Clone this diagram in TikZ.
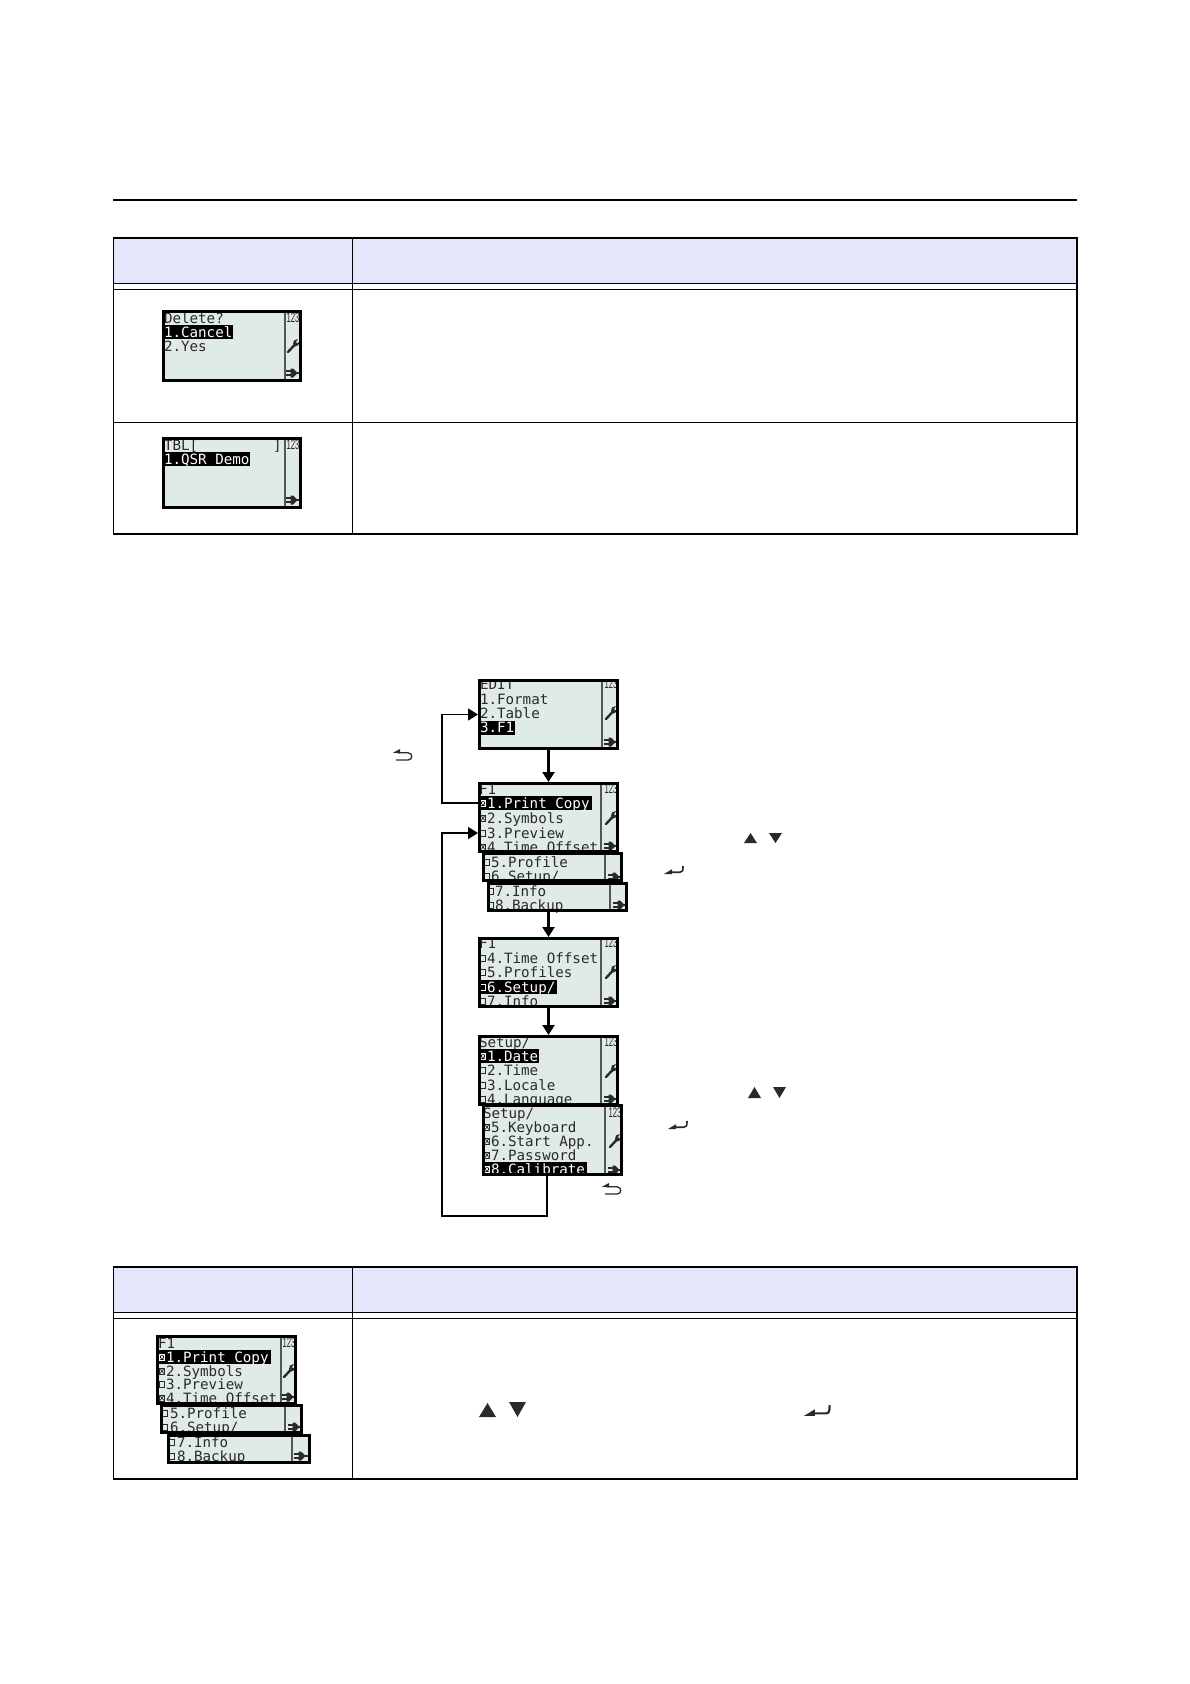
\documentclass[tikz,border=0pt]{standalone}
\usepackage{fontspec}
\setmainfont{Liberation Sans}
\newfontfamily\lcdfont{DejaVu Sans Mono}
\usetikzlibrary{arrows.meta}
\definecolor{lcdbg}{HTML}{E0EAE8}
\definecolor{headbg}{HTML}{E4E6FA}
\definecolor{lcdink}{HTML}{2A2A2A}
\newcount\lcdid
\tikzset{
  tablerule/.style={line width=1.1pt,black},
  lcdscreen/.style={fill=lcdbg,inner sep=0pt,outer sep=0pt,draw=none},
  lcdtext/.style={font=\lcdfont\fontsize{14.2}{15}\selectfont,inner sep=0pt,outer sep=0pt,text=lcdink,anchor=base west},
  lcdnum/.style={font=\fontsize{14}{14}\selectfont,inner sep=0pt,outer sep=0pt,text=lcdink,xscale=.55},
  flowline/.style={line width=2.2pt,-{Triangle[width=12pt,length=10pt]}},
  backline/.style={line width=1.5pt,-{Triangle[width=12pt,length=10pt]}},
  iconline/.style={line width=1.3pt,lcdink},
}
% name x1 y1 x2 y2
\newcommand\lcdopen[5]{%
  \node[lcdscreen,minimum width={#4-#2},minimum height={#5-#3}] (#1) at ({(#2+#4)/2},{(#3+#5)/2}) {};
  \begin{scope}
  \clip (#2,#3) rectangle (#4,#5);
}
% x1 y1 x2 y2 lw divx
\newcommand\lcdclose[6]{%
  \end{scope}
  \draw[line width=1.5pt,lcdink!80] (#6,#2) -- (#6,#4);
  \draw[line width=#5pt,black] ({#1+#5/2},{#2+#5/2}) rectangle ({#3-#5/2},{#4-#5/2});
}
\newcommand\lrow[3]{\global\advance\lcdid by 1
  \node[lcdtext] (txt\the\lcdid) at ({#1-1},{#2+5.2}) {#3};}
\newcommand\lwhite[3]{\global\advance\lcdid by 1
  \node[lcdtext,text=white] (txt\the\lcdid) at ({#1-1},{#2+5.2}) {#3};}
\newcommand\cbo[3][lcdink]{\draw[#1,line width=.9pt] ({#2+.5},{#3-3}) rectangle ({#2+5.5},{#3+3});}
\newcommand\cbc[3][lcdink]{\draw[#1,line width=.9pt] ({#2+.5},{#3-3}) rectangle ({#2+5.5},{#3+3});
  \draw[#1,line width=.7pt] ({#2+1},{#3-2.5}) -- ({#2+5},{#3+2.5}) ({#2+1},{#3+2.5}) -- ({#2+5},{#3-2.5});}
\newcommand\numicon[2]{\global\advance\lcdid by 1
  \node[lcdnum] (num\the\lcdid) at (#1,#2) {123};}
\newcommand\wrenchicon[2]{\begin{scope}[shift={(#1,#2)}]
  \draw[line width=2.4pt,lcdink,line cap=round] (-5,6) -- (1.5,-1);
  \fill[lcdink] (0,-2) -- (1,-5.5) -- (5,-7) -- (3,-4) -- (4,-2.5) -- (6.5,-4.5) -- (5.5,-1) -- (2,.5) -- cycle;
\end{scope}}
\newcommand\plugicon[2]{\begin{scope}[shift={(#1,#2)}]
  \fill[lcdink] (-2.5,-4.5) -- (0,-4.5) -- (3.5,-1.2) -- (3.5,1.2) -- (0,4.5) -- (-2.5,4.5) -- cycle;
  \draw[line width=1.2pt,lcdink] (-7,-2) -- (-2,-2) (-7,2) -- (-2,2) (3,0) -- (7.5,0);
\end{scope}}
\newcommand\backicon[2]{\begin{scope}[shift={(#1,#2)}]
  \fill[lcdink] (0,3.7) -- (7,0) -- (7,4.4) -- cycle;
  \draw[iconline] (5,3.8) -- (15,3.8) .. controls (20,3.8) and (20,11) .. (15,11) -- (3,11);
\end{scope}}
\newcommand\entericon[3]{\begin{scope}[shift={(#1,#2)},scale=#3]
  \fill[lcdink] (0,8) -- (8,3.2) -- (8,8) -- cycle;
  \draw[iconline,line width=#3*1.6pt] (7,6.2) -- (16,6.2) .. controls (18.5,6.2) and (19,5) .. (19,0);
\end{scope}}
\newcommand\upt[4]{\fill[lcdink] (#1,#4) -- ({(#1+#2)/2},#3) -- (#2,#4) -- cycle;}
\newcommand\dnt[4]{\fill[lcdink] (#1,#3) -- ({(#1+#2)/2},#4) -- (#2,#3) -- cycle;}
\begin{document}
\begin{tikzpicture}[x=1pt,y=-1pt]
\useasboundingbox (0,0) rectangle (1190,1684);
\fill[white] (0,0) rectangle (1190,1684);
% top rule
\draw[line width=2.6pt] (113,200) -- (1077,200);
% table 1
\fill[headbg] (113.5,238) rectangle (1077,283.5);
\draw[tablerule] (113.5,238) rectangle (1077,534);
\draw[tablerule] (352.5,238) -- (352.5,534);
\draw[tablerule] (113.5,283.5) -- (1077,283.5);
\draw[tablerule] (113.5,289.5) -- (1077,289.5);
\draw[tablerule] (113.5,422.5) -- (1077,422.5);
% Delete screen
\lcdopen{del}{162}{310}{302}{382}
\lrow{165}{318}{Delete?}
\fill[black] (164,{332-7}) rectangle (233,{332+7});
\lwhite{165}{332}{1.Cancel}
\lrow{165}{346}{2.Yes}
\numicon{293}{318}
\wrenchicon{293}{346}
\plugicon{293}{373}
\lcdclose{162}{310}{302}{382}{2.6}{285}
% TBL screen
\lcdopen{tbl}{162}{437}{302}{509}
\lrow{165}{445}{TBL[}
\lrow{274}{445}{]}
\fill[black] (164,{459-7}) rectangle (250,{459+7});
\lwhite{165}{459}{1.QSR Demo}
\numicon{293}{445}
\plugicon{293}{500}
\lcdclose{162}{437}{302}{509}{2.6}{285}
% flow connectors
\coordinate (f1up) at (478,803);
\coordinate (f1in) at (478,833);
\coordinate (setout) at (547,1176);
% EDIT
\lcdopen{edit}{478}{679}{619}{750}
\lrow{481}{684}{EDIT}
\lrow{481}{699}{1.Format}
\lrow{481}{713}{2.Table}
\fill[black] (480,{727.5-7}) rectangle (515,{727.5+7});
\lwhite{481}{727.5}{3.F1}
\numicon{611}{684}
\wrenchicon{611}{713}
\plugicon{611}{742}
\lcdclose{478}{679}{619}{750}{2.6}{602}
% F1 first
\lcdopen{fa}{478}{782}{619}{853}
\lrow{480}{789}{F1}
\fill[black] (480,{803-7}) rectangle (592,{803+7});
\cbc[white]{480}{803}
\lwhite{488}{803}{1.Print Copy}
\cbc{480}{818}\lrow{488}{818}{2.Symbols}
\cbo{480}{833}\lrow{488}{833}{3.Preview}
\cbc{480}{847}\lrow{488}{847}{4.Time Offset}
\numicon{611}{789}
\wrenchicon{611}{818}
\plugicon{611}{846}
\lcdclose{478}{782}{619}{853}{2.6}{601}
\lcdopen{fb}{482}{852}{623}{882}
\cbo{484}{862}\lrow{492}{862}{5.Profile}
\cbo{484}{876}\lrow{492}{876}{6.Setup/}
\plugicon{615}{877}
\lcdclose{482}{852}{623}{882}{2.6}{605}
\lcdopen{fc}{487}{882}{628}{912}
\cbo{488}{891}\lrow{496}{891}{7.Info}
\cbo{488}{905}\lrow{496}{905}{8.Backup}
\plugicon{620}{905}
\lcdclose{487}{882}{628}{912}{2.6}{610}
% F1 second
\lcdopen{fd}{478}{937}{619}{1008}
\lrow{480}{943}{F1}
\cbo{480}{958}\lrow{488}{958}{4.Time Offset}
\cbo{480}{972}\lrow{488}{972}{5.Profiles}
\fill[black] (480,{987-7}) rectangle (557,{987+7});
\cbo[white]{480}{987}
\lwhite{488}{987}{6.Setup/}
\cbo{480}{1001}\lrow{488}{1001}{7.Info}
\numicon{611}{943}
\wrenchicon{611}{972}
\plugicon{611}{1001}
\lcdclose{478}{937}{619}{1008}{2.6}{601}
% Setup
\lcdopen{sa}{478}{1035}{619}{1106}
\lrow{480}{1042}{Setup/}
\fill[black] (480,{1056-7}) rectangle (539,{1056+7});
\cbc[white]{480}{1056}
\lwhite{488}{1056}{1.Date}
\cbo{480}{1070.5}\lrow{488}{1070.5}{2.Time}
\cbo{480}{1085}\lrow{488}{1085}{3.Locale}
\cbo{480}{1099}\lrow{488}{1099}{4.Language}
\numicon{611}{1042}
\wrenchicon{611}{1071}
\plugicon{611}{1099}
\lcdclose{478}{1035}{619}{1106}{2.6}{601}
\lcdopen{sb}{482}{1104}{623}{1176}
\lrow{484}{1113}{Setup/}
\cbc{484}{1127}\lrow{492}{1127}{5.Keyboard}
\cbc{484}{1141}\lrow{492}{1141}{6.Start App.}
\cbc{484}{1155}\lrow{492}{1155}{7.Password}
\fill[black] (484,{1169-7}) rectangle (587,{1169+7});
\cbc[white]{484}{1169}
\lwhite{492}{1169}{8.Calibrate}
\numicon{615}{1113}
\wrenchicon{615}{1141}
\plugicon{615}{1170}
\lcdclose{482}{1104}{623}{1176}{2.6}{605}
% connectors
\draw[flowline] (edit.south) -- (fa.north);
\draw[flowline] (fc.south -| fd.north) -- (fd.north);
\draw[flowline] (fd.south) -- (sa.north);
\draw[backline] (f1up) -- (442,803) |- (edit.west);
\draw[backline] (setout) -- (547,1216) -- (442,1216) |- (f1in);
% icons
\backicon{393}{749}
\upt{744}{757}{833}{843}
\dnt{769}{782}{833}{843}
\entericon{664}{866}{1}
\upt{748}{761}{1087}{1098}
\dnt{773}{786}{1087}{1098}
\entericon{668}{1121}{1}
\backicon{602}{1183}
% table 2
\fill[headbg] (113.5,1267) rectangle (1077,1312.5);
\draw[tablerule] (113.5,1267) rectangle (1077,1479);
\draw[tablerule] (352.5,1267) -- (352.5,1479);
\draw[tablerule] (113.5,1312.5) -- (1077,1312.5);
\draw[tablerule] (113.5,1318.5) -- (1077,1318.5);
% table 2 screens
\lcdopen{ta}{156}{1335}{297}{1405}
\lrow{159}{1343}{F1}
\fill[black] (158,{1357-7}) rectangle (271,{1357+7});
\cbc[white]{159}{1357}
\lwhite{167}{1357}{1.Print Copy}
\cbc{159}{1371}\lrow{167}{1371}{2.Symbols}
\cbo{159}{1384}\lrow{167}{1384}{3.Preview}
\cbc{159}{1398}\lrow{167}{1398}{4.Time Offset}
\numicon{289}{1343}
\wrenchicon{289}{1371}
\plugicon{289}{1397}
\lcdclose{156}{1335}{297}{1405}{3}{281}
\lcdopen{tb}{160}{1404}{303}{1434}
\cbo{162}{1413}\lrow{171}{1413}{5.Profile}
\cbo{162}{1427}\lrow{171}{1427}{6.Setup/}
\plugicon{295}{1427}
\lcdclose{160}{1404}{303}{1434}{3}{285}
\lcdopen{tc}{167}{1434}{311}{1464}
\cbo{169}{1442}\lrow{178}{1442}{7.Info}
\cbo{169}{1456}\lrow{178}{1456}{8.Backup}
\plugicon{301}{1456}
\lcdclose{167}{1434}{311}{1464}{3}{292}
\upt{479}{496}{1403}{1417}
\dnt{509}{526}{1402}{1417}
\entericon{804}{1405}{1.35}
\end{tikzpicture}
\end{document}
